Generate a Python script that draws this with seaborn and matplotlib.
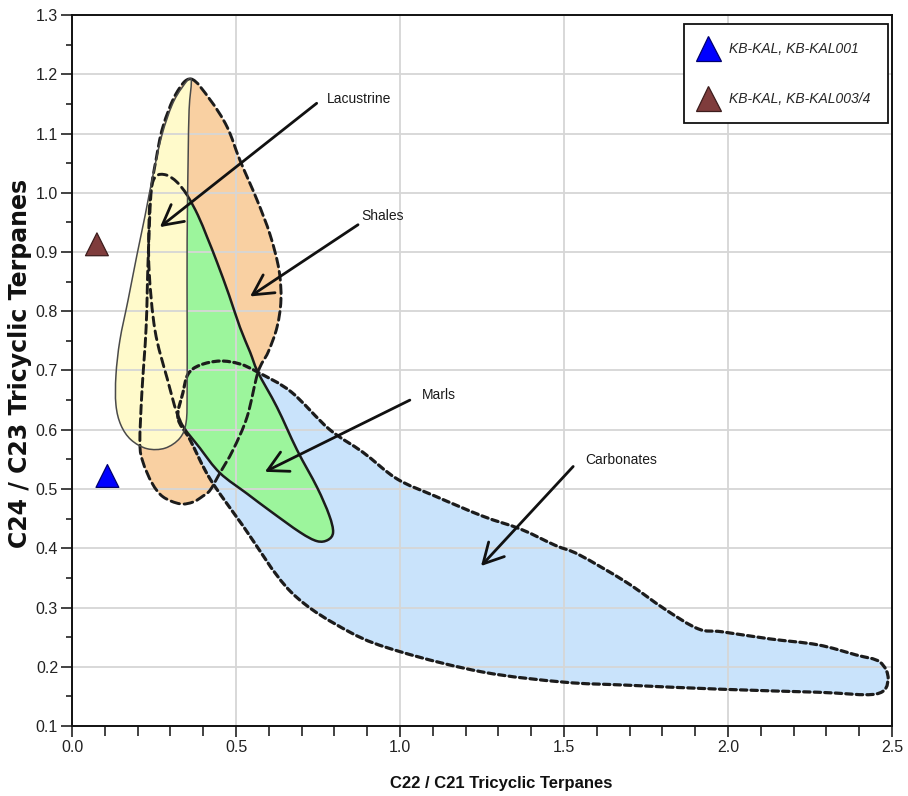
import numpy as np
import pandas as pd
import matplotlib
matplotlib.use("Agg")
import matplotlib.pyplot as plt
from matplotlib.path import Path
from matplotlib.patches import PathPatch
from matplotlib.ticker import MultipleLocator, FormatStrFormatter
import seaborn as sns

# Measured samples
sample_labels = ["KB-KAL, KB-KAL001", "KB-KAL, KB-KAL003/4"]
c22_c21 = [0.108, 0.076]
c24_c23 = [0.522, 0.913]
sample_colors = ["#0000ff", "#7f3c3c"]
sample_edges = ["#00006e", "#3c1c1c"]

# Source-rock fields: outline vertices (C22/C21, C24/C23)
shales_x = [0.363, 0.421, 0.473, 0.512, 0.564, 0.604, 0.631, 0.637, 0.625, 0.598,
            0.567, 0.534, 0.491, 0.451, 0.421, 0.399, 0.369, 0.329, 0.277, 0.244,
            0.216, 0.207, 0.213, 0.226, 0.232, 0.241, 0.256, 0.277, 0.317]
shales_y = [1.192, 1.157, 1.111, 1.055, 0.988, 0.929, 0.870, 0.819, 0.773, 0.731,
            0.697, 0.622, 0.566, 0.527, 0.498, 0.488, 0.478, 0.475, 0.487, 0.510,
            0.546, 0.578, 0.662, 0.773, 0.886, 1.000, 1.055, 1.111, 1.167]

carbonates_x = [0.323, 0.338, 0.354, 0.390, 0.451, 0.512, 0.567, 0.668, 0.784, 0.887,
                0.991, 1.107, 1.253, 1.369, 1.473, 1.546, 1.689, 1.808, 1.909, 1.982,
                2.128, 2.274, 2.390, 2.463, 2.488, 2.451, 2.274, 1.982, 1.689, 1.500,
                1.253, 1.003, 0.845, 0.668, 0.521, 0.421, 0.360]
carbonates_y = [0.620, 0.662, 0.694, 0.709, 0.716, 0.711, 0.697, 0.664, 0.601, 0.562,
                0.517, 0.488, 0.454, 0.432, 0.405, 0.389, 0.343, 0.297, 0.264, 0.259,
                0.247, 0.237, 0.220, 0.208, 0.179, 0.154, 0.157, 0.162, 0.169, 0.174,
                0.191, 0.225, 0.259, 0.326, 0.438, 0.517, 0.583]

marls_x = [0.256, 0.287, 0.320, 0.351, 0.384, 0.412, 0.442, 0.479, 0.512, 0.543,
           0.567, 0.625, 0.686, 0.747, 0.784, 0.796, 0.780, 0.747, 0.695, 0.604,
           0.534, 0.451, 0.390, 0.329, 0.290, 0.253, 0.235, 0.235, 0.241]
marls_y = [1.028, 1.030, 1.018, 0.996, 0.962, 0.925, 0.883, 0.827, 0.773, 0.731,
           0.697, 0.638, 0.566, 0.503, 0.456, 0.427, 0.414, 0.412, 0.427, 0.463,
           0.492, 0.527, 0.569, 0.616, 0.687, 0.768, 0.870, 0.954, 1.005]

lacustrine_x = [0.363, 0.335, 0.305, 0.274, 0.247, 0.223, 0.198, 0.171, 0.146, 0.134,
                0.134, 0.149, 0.180, 0.229, 0.284, 0.329, 0.348, 0.351, 0.351, 0.351,
                0.354, 0.357]
lacustrine_y = [1.192, 1.177, 1.148, 1.097, 1.030, 0.962, 0.895, 0.819, 0.751, 0.692,
                0.642, 0.608, 0.583, 0.568, 0.569, 0.586, 0.613, 0.667, 0.785, 0.920,
                1.055, 1.140]

field_names = ["Lacustrine", "Shales", "Marls", "Carbonates"]

# Field label placement and pointer arrows
label_x = [0.776, 0.883, 1.066, 1.564]
label_y = [1.158, 0.960, 0.659, 0.549]
arrow_from_x = [0.746, 0.872, 1.030, 1.528]
arrow_from_y = [1.151, 0.946, 0.650, 0.538]
arrow_to_x = [0.268, 0.543, 0.588, 1.247]
arrow_to_y = [0.942, 0.825, 0.529, 0.370]

sns.set_theme(style="whitegrid")
sans = ["Liberation Sans", "DejaVu Sans"]
plt.rcParams["font.family"] = sans

fig = plt.figure(figsize=(9.08, 7.96), dpi=100)
ax = fig.add_axes([72 / 908, 70 / 796, 820 / 908, 711 / 796])
ax.set_facecolor("white")


def outline_path(xs, ys, start=0, stop=None):
    """Smooth closed outline through the vertices (cubic Bezier pieces).

    With stop=None the full loop is returned; otherwise only the pieces
    from vertex `start` to vertex `stop` (wrapping round the loop).
    """
    pts = np.column_stack([xs, ys])
    n = len(pts)
    full = stop is None
    count = n if full else (stop - start) % n
    verts = [pts[start % n]]
    codes = [Path.MOVETO]
    for k in range(count):
        i = start + k
        p0, p1 = pts[(i - 1) % n], pts[i % n]
        p2, p3 = pts[(i + 1) % n], pts[(i + 2) % n]
        verts += [p1 + (p2 - p0) / 6.0, p2 - (p3 - p1) / 6.0, p2]
        codes += [Path.CURVE4] * 3
    if full:
        verts.append(pts[start % n])
        codes.append(Path.CLOSEPOLY)
    return Path(np.array(verts), codes)


def fill_field(xs, ys, color, z):
    ax.add_patch(PathPatch(outline_path(xs, ys), facecolor=color,
                           edgecolor="none", lw=0, zorder=z))


def edge_field(xs, ys, start=0, stop=None, **kw):
    ax.add_patch(PathPatch(outline_path(xs, ys, start, stop), fill=False,
                           capstyle="round", joinstyle="round", **kw))


# Fills, stacked from back to front
fill_field(shales_x, shales_y, "#f9d0a2", 0.6)
fill_field(carbonates_x, carbonates_y, "#c9e3fb", 0.7)
fill_field(marls_x, marls_y, "#9cf59c", 0.8)
fill_field(lacustrine_x, lacustrine_y, "#fffacb", 0.9)

# Outlines
edge_field(carbonates_x, carbonates_y, edgecolor="#1c1c1c", lw=2.3,
           linestyle=(0, (2.0, 1.3)), zorder=3)
edge_field(shales_x, shales_y, edgecolor="#1c1c1c", lw=2.1,
           linestyle=(0, (3.0, 1.6)), zorder=3)
edge_field(marls_x, marls_y, 3, 23, edgecolor="#1c1c1c", lw=1.8, zorder=3)
edge_field(marls_x, marls_y, 23, 3, edgecolor="#1c1c1c", lw=2.1,
           linestyle=(0, (3.0, 1.8)), zorder=3)
edge_field(lacustrine_x, lacustrine_y, edgecolor="#4a4a4a", lw=1.1, zorder=3.1)

# Field labels with pointer arrows
for name, tx, ty, fx, fy, hx, hy in zip(field_names, label_x, label_y,
                                         arrow_from_x, arrow_from_y,
                                         arrow_to_x, arrow_to_y):
    ax.annotate("", xy=(hx, hy), xytext=(fx, fy),
                arrowprops=dict(arrowstyle="->,head_length=0.65,head_width=0.35",
                                color="#111111", lw=2.0, mutation_scale=22,
                                shrinkA=0, shrinkB=0),
                zorder=4)
    ax.text(tx, ty, name, fontsize=10, color="#1a1a1a", ha="left",
            va="center", family=sans, zorder=4)

# Samples
samples = pd.DataFrame({"sample": sample_labels, "C22/C21": c22_c21,
                        "C24/C23": c24_c23})
sns.scatterplot(data=samples, x="C22/C21", y="C24/C23", hue="sample",
                palette=sample_colors, marker="^", s=270, linewidth=0.9,
                ax=ax, zorder=5, legend=True)
ax.collections[-1].set_edgecolors(sample_edges)

old = ax.get_legend()
handles = old.legend_handles
for h, fc, ec in zip(handles, sample_colors, sample_edges):
    h.set_markersize(18)
    h.set_markerfacecolor(fc)
    h.set_markeredgecolor(ec)
    h.set_markeredgewidth(0.9)
old.remove()
leg = ax.legend(handles, sample_labels, loc="upper right",
                bbox_to_anchor=(0.995, 0.987), borderaxespad=0,
                frameon=True, fancybox=False, framealpha=1,
                edgecolor="#111111", borderpad=1.25, labelspacing=2.6,
                handlelength=1.0, handletextpad=1.0,
                prop=dict(family=sans, style="italic", size=10))
leg.get_frame().set_linewidth(1.3)
leg.set_zorder(6)

# Axes, ticks, grid
ax.set_xlim(0, 2.5)
ax.set_ylim(0.1, 1.3)
ax.xaxis.set_major_locator(MultipleLocator(0.5))
ax.xaxis.set_minor_locator(MultipleLocator(0.1))
ax.yaxis.set_major_locator(MultipleLocator(0.1))
ax.yaxis.set_minor_locator(MultipleLocator(0.05))
ax.xaxis.set_major_formatter(FormatStrFormatter("%.1f"))
ax.yaxis.set_major_formatter(FormatStrFormatter("%.1f"))
ax.set_axisbelow("line")
ax.grid(True, which="major", color="#d6d6d6", lw=1.3)
ax.grid(False, which="minor")
ax.tick_params(axis="both", which="major", direction="out", length=8, width=1.2,
               color="#222222", labelsize=11.5, labelcolor="#222222", pad=2,
               bottom=True, left=True, top=False, right=False)
ax.tick_params(axis="x", which="minor", direction="out", length=7, width=1.2,
               color="#222222", bottom=True, top=False)
ax.tick_params(axis="y", which="minor", direction="out", length=4, width=1.2,
               color="#222222", left=True, right=False)
for sp in ax.spines.values():
    sp.set_visible(True)
    sp.set_color("#111111")
    sp.set_linewidth(1.4)

ax.set_xlabel("C22 / C21 Tricyclic Terpanes", fontsize=12, fontweight="bold",
              family=sans, color="#111111")
ax.xaxis.set_label_coords(0.524, -0.07)
ax.set_ylabel("C24 / C23 Tricyclic Terpanes", fontsize=17, fontweight="bold",
              family=["DejaVu Sans"], color="#111111")
ax.yaxis.set_label_coords(-0.049, 0.51)

fig.savefig("out.png", dpi=100, facecolor="white")
